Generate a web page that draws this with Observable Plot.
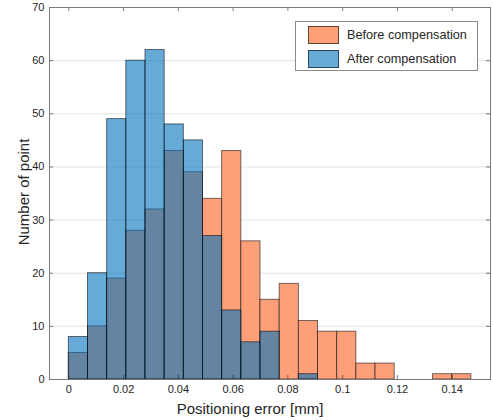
<!DOCTYPE html>
<html>
<head>
<meta charset="utf-8">
<script src="https://cdn.jsdelivr.net/npm/d3@7"></script>
<script src="https://cdn.jsdelivr.net/npm/@observablehq/plot@0.6"></script>
<style>
  body { margin: 0; background: #fff; }
  #wrap { position: relative; width: 493px; height: 420px; font-family: "Liberation Sans", Arial, sans-serif; color: #262626; }
  .lbl { position: absolute; white-space: nowrap; font-size: 15px; }
  #legend { position: absolute; left: 295px; top: 21px; width: 183px; height: 50px; border: 1px solid #8a8a8a; background: #fff; box-sizing: border-box; }
  .sw { position: absolute; left: 12px; width: 31px; height: 18px; box-sizing: border-box; border: 1px solid rgba(0,0,0,0.6); }
  .lt { position: absolute; left: 51px; font-size: 12.7px; line-height: 18px; }
</style>
</head>
<body>
<div id="wrap"></div>
<script>
// Bin edges (mm)
const binEdges = [0, 0.007, 0.014, 0.021, 0.028, 0.035, 0.042, 0.049, 0.056, 0.063, 0.070,
  0.077, 0.084, 0.091, 0.098, 0.105, 0.112, 0.119, 0.126, 0.133, 0.140, 0.147];
// Counts per bin
const beforeCounts = [5, 10, 19, 28, 32, 43, 39, 34, 43, 26, 15, 18, 11, 9, 9, 3, 3, 0, 0, 1, 1];
const afterCounts  = [8, 20, 49, 60, 62, 48, 45, 27, 13, 7, 9, 0, 1, 0, 0, 0, 0, 0, 0, 0, 0];
const xTicks = [0, 0.02, 0.04, 0.06, 0.08, 0.1, 0.12, 0.14];
const yTicks = [0, 10, 20, 30, 40, 50, 60, 70];
const seriesNames = ["Before compensation", "After compensation"];
const colors = { before: "#FDA07A", after: "rgb(0,114,189)" };

const toBins = counts => counts.map((c, i) => ({x1: binEdges[i], x2: binEdges[i + 1], y: c})).filter(d => d.y > 0);
const before = toBins(beforeCounts);
const after = toBins(afterCounts);

const xDom = [-0.00705, 0.15398];
const yDom = [0, 70];
const W = 493, H = 420, mL = 49, mR = 3, mT = 7, mB = 41;
const pxX = (xDom[1] - xDom[0]) / (W - mL - mR);
const pxY = (yDom[1] - yDom[0]) / (H - mT - mB);
const tk = 4;

const chart = Plot.plot({
  width: W, height: H,
  marginLeft: mL, marginRight: mR, marginTop: mT, marginBottom: mB,
  style: { fontFamily: '"Liberation Sans", Arial, sans-serif', fontSize: "11px", color: "#262626", background: "#fff" },
  x: { domain: xDom },
  y: { domain: yDom },
  marks: [
    Plot.ruleY(yTicks.filter(t => t > 0 && t < 70), { stroke: "#e3e3e3", strokeWidth: 1 }),
    Plot.rectY(before, { x1: "x1", x2: "x2", y: "y", fill: colors.before, stroke: "#000", strokeOpacity: 0.6, strokeWidth: 0.9 }),
    Plot.rectY(after, { x1: "x1", x2: "x2", y: "y", fill: colors.after, fillOpacity: 0.6, stroke: "#000", strokeOpacity: 0.6, strokeWidth: 0.9 }),
    Plot.ruleX(xTicks, { y1: 0, y2: tk * pxY, stroke: "#262626", strokeWidth: 0.6 }),
    Plot.ruleX(xTicks, { y1: 70 - tk * pxY, y2: 70, stroke: "#262626", strokeWidth: 0.6 }),
    Plot.ruleY(yTicks, { x1: xDom[0], x2: xDom[0] + tk * pxX, stroke: "#262626", strokeWidth: 0.6 }),
    Plot.ruleY(yTicks, { x1: xDom[1] - tk * pxX, x2: xDom[1], stroke: "#262626", strokeWidth: 0.6 }),
    Plot.frame({ stroke: "#7a7a7a", strokeWidth: 1 }),
    Plot.axisX(xTicks, { tickSize: 0, tickPadding: 6, label: null, tickFormat: d => String(+d.toFixed(2)), fill: "#262626" }),
    Plot.axisY(yTicks, { tickSize: 0, tickPadding: 5, label: null, fill: "#262626" })
  ]
});

const wrap = document.getElementById("wrap");
wrap.appendChild(chart);

const xl = document.createElement("div");
xl.className = "lbl";
xl.textContent = "Positioning error [mm]";
xl.style.left = "250px"; xl.style.top = "408px";
xl.style.transform = "translate(-50%, -50%)";
wrap.appendChild(xl);

const yl = document.createElement("div");
yl.className = "lbl";
yl.textContent = "Number of point";
yl.style.left = "23px"; yl.style.top = "192px";
yl.style.transform = "translate(-50%, -50%) rotate(-90deg)";
wrap.appendChild(yl);

const lg = document.createElement("div");
lg.id = "legend";
[[seriesNames[0], colors.before, 1], [seriesNames[1], "rgb(102,170,215)", 1]].forEach(([name, col], i) => {
  const sw = document.createElement("div");
  sw.className = "sw";
  sw.style.top = (3.5 + i * 24) + "px";
  sw.style.background = col;
  lg.appendChild(sw);
  const t = document.createElement("div");
  t.className = "lt";
  t.style.top = (3.5 + i * 24) + "px";
  t.textContent = name;
  lg.appendChild(t);
});
wrap.appendChild(lg);
</script>
</body>
</html>
